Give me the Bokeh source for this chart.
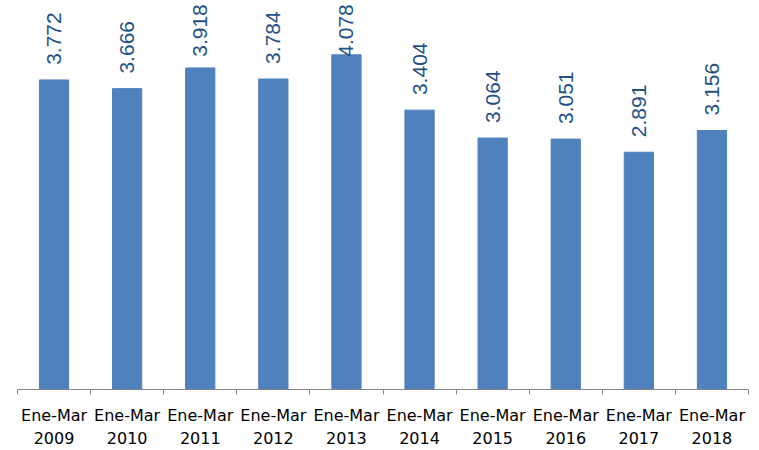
import numpy as np
from bokeh.plotting import figure
from bokeh.models import Range1d, FixedTicker, LinearAxis, ColumnDataSource
from bokeh.core.properties import value
from bokeh.embed import file_html
from bokeh.resources import INLINE

periods = ["Ene-Mar"] * 10
years = ["2009", "2010", "2011", "2012", "2013", "2014", "2015", "2016", "2017", "2018"]
values = [3.772, 3.666, 3.918, 3.784, 4.078, 3.404, 3.064, 3.051, 2.891, 3.156]
value_labels = ["3.772", "3.666", "3.918", "3.784", "4.078", "3.404", "3.064", "3.051", "2.891", "3.156"]

n = len(years)
centers = [float(i) + 0.5 for i in range(n)]
bounds = [float(i) for i in range(n + 1)]

FRAME_H = 387
Y_MAX = 4.740
px_per_unit = FRAME_H / Y_MAX
gap = 15 / px_per_unit
text_len = 56 / px_per_unit
label_y = np.minimum(np.array(values) + gap, Y_MAX - text_len)

src = ColumnDataSource(dict(x=centers, top=values, ly=label_y, lab=value_labels))

p = figure(width=758, height=446, output_backend="svg", toolbar_location=None,
           x_range=Range1d(0, n), y_range=Range1d(0, Y_MAX),
           min_border_left=17, min_border_right=10, min_border_top=0, min_border_bottom=0,
           x_axis_type=None, y_axis_type=None)
p.outline_line_color = None
p.background_fill_color = "white"
p.border_fill_color = "white"

ax1 = LinearAxis(ticker=FixedTicker(ticks=centers, minor_ticks=bounds),
                 major_label_overrides={c: s for c, s in zip(centers, periods)})
ax1.major_tick_in = 0
ax1.major_tick_out = 0
ax1.minor_tick_in = 0
ax1.minor_tick_out = 5
ax1.minor_tick_line_color = "#868686"
ax1.axis_line_color = "#868686"
ax1.major_label_standoff = 11
ax1.major_label_text_font = "DejaVu Sans"
ax1.major_label_text_font_size = "16px"
ax1.major_label_text_color = "#000000"

ax2 = LinearAxis(ticker=FixedTicker(ticks=centers),
                 major_label_overrides={c: s for c, s in zip(centers, years)})
ax2.axis_line_color = None
ax2.major_tick_line_color = None
ax2.minor_tick_line_color = None
ax2.major_tick_in = 0
ax2.major_tick_out = 0
ax2.major_label_standoff = 4
ax2.major_label_text_font = "DejaVu Sans"
ax2.major_label_text_font_size = "16px"
ax2.major_label_text_color = "#000000"

p.add_layout(ax1, "below")
p.add_layout(ax2, "below")

p.vbar(x="x", top="top", bottom=0, width=0.4, source=src,
       fill_color="#4F81BD", line_color="#4F81BD")

p.text(x="x", y="ly", text="lab", source=src, angle=np.pi / 2,
       text_align="left", text_baseline="middle",
       text_font=value("Liberation Sans"), text_font_size="21px",
       text_color="#245185")

open("out.html", "w").write(file_html(p, INLINE))
